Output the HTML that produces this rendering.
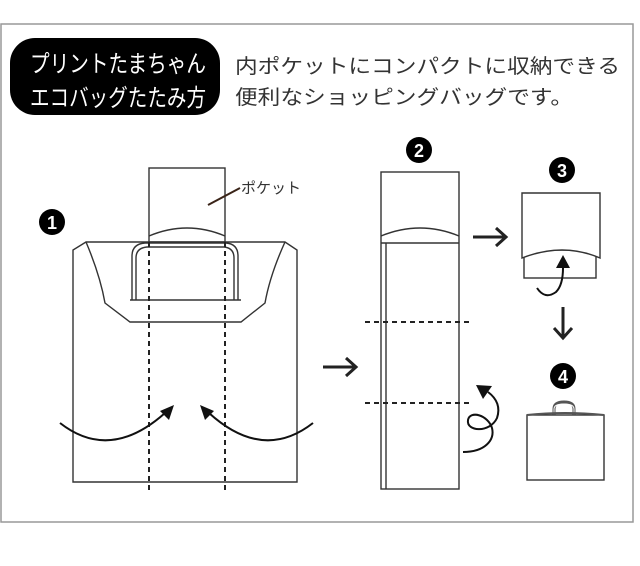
<!DOCTYPE html>
<html><head><meta charset="utf-8"><style>
body{margin:0;background:#fff;width:640px;height:566px;overflow:hidden;}
svg{display:block}
text{font-family:"Liberation Sans","Noto Sans CJK JP",sans-serif;}
</style></head><body>
<svg width="640" height="566" viewBox="0 0 640 566" xmlns="http://www.w3.org/2000/svg">
<rect x="1" y="24" width="632" height="498" fill="#fff" stroke="#999" stroke-width="1.5"/>
<rect x="10" y="38" width="210" height="77" rx="25" fill="#000"/>
<text x="30" y="72" fill="#fff" font-size="24" textLength="176" lengthAdjust="spacingAndGlyphs">プリントたまちゃん</text>
<text x="30" y="106" fill="#fff" font-size="24" textLength="176" lengthAdjust="spacingAndGlyphs">エコバッグたたみ方</text>
<text x="235" y="73" fill="#333" font-size="20" textLength="385" lengthAdjust="spacingAndGlyphs">内ポケットにコンパクトに収納できる</text>
<text x="235" y="104" fill="#333" font-size="20" textLength="338" lengthAdjust="spacingAndGlyphs">便利なショッピングバッグです。</text>

<g fill="none" stroke="#333" stroke-width="1.4">
<rect x="149" y="168" width="76" height="74" fill="#fff"/>
<path d="M149,236 Q187,220 225,236"/>
<path d="M86,242 L285,242 L297,250 L297,482 L73,482 L73,250 Z" fill="#fff"/>
<path d="M86,242 Q100,275 105,303 L130,322 L241,322 L265,303 Q270,275 285,242"/>
<path d="M130,300 L241,300"/>
<path d="M132,300 L132,256 Q132,244 145,243 L226,243 Q238,244 238,256 L238,300"/>
<path d="M136,300 L136,258 Q136,248 147,247 L224,247 Q234,248 234,258 L234,300"/>
</g>
<g stroke="#222" stroke-width="2" stroke-dasharray="5,4" fill="none">
<line x1="149" y1="242" x2="149" y2="492"/>
<line x1="225" y1="242" x2="225" y2="492"/>
</g>
<g fill="none" stroke="#111" stroke-width="2">
<path d="M60,423 Q110,462 165,413"/>
<path d="M313,423 Q263,462 209,413"/>
</g>
<polygon points="174,405 160,411 169,420" fill="#111"/>
<polygon points="200,405 214,411 205,420" fill="#111"/>
<line x1="208" y1="205" x2="240" y2="188" stroke="#3a2418" stroke-width="2"/>
<text x="241" y="193" fill="#333" font-size="15">ポケット</text>

<g fill="#000"><circle cx="52" cy="222" r="13"/><circle cx="419" cy="150" r="13"/><circle cx="562" cy="170" r="13"/><circle cx="563" cy="376" r="13"/></g>
<g fill="#fff" font-size="18" font-weight="bold" text-anchor="middle">
<text x="52" y="229">1</text><text x="419" y="157">2</text><text x="562" y="177">3</text><text x="563" y="383">4</text></g>

<g fill="none" stroke="#333" stroke-width="1.4">
<rect x="381" y="172" width="78" height="317"/>
<path d="M381,236 Q420,220 459,236"/>
<line x1="381" y1="243" x2="459" y2="243"/>
<line x1="386" y1="243" x2="386" y2="489"/>
</g>
<g stroke="#222" stroke-width="2" stroke-dasharray="5,4">
<line x1="365" y1="322" x2="473" y2="322"/>
<line x1="365" y1="403" x2="473" y2="403"/>
</g>
<g stroke="#222" stroke-width="3" fill="none">
<path d="M323,367 L356,367 M346,358 L356,367 L346,376"/>
<path d="M473,237 L506,237 M496,228 L506,237 L496,246"/>
<path d="M563,307 L563,338 M554,328 L563,338 L572,328"/>
</g>
<path d="M463,452 C485,452 495,440 492,428 C488,415 470,410 468,420 C466,432 490,433 497,418 C501,406 496,398 488,392" fill="none" stroke="#111" stroke-width="2"/>
<polygon points="476,385 492,386 483,399" fill="#111"/>

<g fill="#fff" stroke="#333" stroke-width="1.4">
<rect x="524" y="250" width="72" height="28"/>
<path d="M522,193 L600,193 L600,258 Q563,242 522,258 Z"/>
</g>
<path d="M537,288 Q545,300 556,292 Q563,285 563,268" fill="none" stroke="#111" stroke-width="2"/>
<polygon points="563,255 556,268 570,268" fill="#111"/>

<path d="M554,415 L554,409 Q554,402 564,402 Q574,402 574,409 L574,415" fill="none" stroke="#555" stroke-width="3"/>
<path d="M554,415 L554,409 Q554,404 564,404 Q574,404 574,409 L574,415" fill="none" stroke="#fff" stroke-width="1"/>
<rect x="527" y="415" width="77" height="65" fill="#fff" stroke="#333" stroke-width="1.4"/>
<path d="M527,415 Q565,411 604,415" fill="none" stroke="#555" stroke-width="2"/>
</svg>
</body></html>
